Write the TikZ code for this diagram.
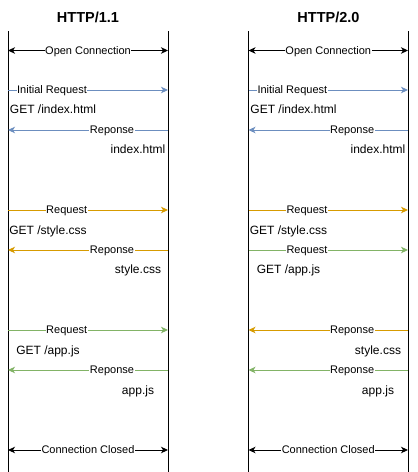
\documentclass[tikz,border=0pt]{standalone}
\usepackage{fontspec}
\setmainfont{Liberation Sans}
\usetikzlibrary{arrows.meta,positioning}
\definecolor{reqblue}{HTML}{6C8EBF}
\definecolor{reqorange}{HTML}{D79B00}
\definecolor{reqgreen}{HTML}{82B366}
\tikzstyle{life}=[draw, line width=1pt]
\tikzstyle{msg}=[line width=1pt, -{Stealth[length=7pt,width=6.5pt,inset=2pt]}]
\tikzstyle{both}=[line width=1pt, {Stealth[length=7pt,width=6.5pt,inset=2pt]}-{Stealth[length=7pt,width=6.5pt,inset=2pt]}]
\tikzstyle{lbl}=[fill=white, inner sep=0.6pt, text height=7.9pt, text depth=0pt, text=black, font=\fontsize{11}{13}\selectfont]
\tikzstyle{txt}=[inner sep=0pt, text height=8.6pt, text depth=0pt, text=black, font=\fontsize{12}{14}\selectfont]
\tikzstyle{ttl}=[inner sep=0pt, font=\bfseries\fontsize{14.5}{17}\selectfont]

\begin{document}
\begin{tikzpicture}[x=1pt,y=-1pt]
\useasboundingbox (0,0) rectangle (418,472);

\node[ttl] (title1) at (88,17) {HTTP/1.1};
\node[ttl] (title2) at (328.5,17) {HTTP/2.0};

% lifelines and the points where the messages start and end
\foreach \s/\x in {A/8,B/168,C/248.5,D/408}{
  \coordinate (\s top) at (\x,31);
  \coordinate (\s bot) at (\x,472);
  \foreach \r/\y in {1/50.5,2/90,3/130,4/210,5/250,6/330,7/370,8/450}
    \coordinate (\s\r) at (\x,\y);
}
\draw[life] (Atop) -- (Abot);
\draw[life] (Btop) -- (Bbot);
\draw[life] (Ctop) -- (Cbot);
\draw[life] (Dtop) -- (Dbot);

% HTTP/1.1
\draw[both] (A1) -- node[lbl] {Open Connection} (B1);
\draw[msg, reqblue] (A2) -- node[lbl, pos=0.275] {Initial Request} (B2);
\node[txt] (get1) at (53,109) {GET /index.html};
\draw[msg, reqblue] (B3) -- node[lbl, pos=0.35] {Reponse} (A3);
\node[txt] (res1) at (138,149) {index.html};

\draw[msg, reqorange] (A4) -- node[lbl, pos=0.367] {Request} (B4);
\node[txt] (get2) at (48,230) {GET /style.css};
\draw[msg, reqorange] (B5) -- node[lbl, pos=0.35] {Reponse} (A5);
\node[txt] (res2) at (138,269.5) {style.css};

\draw[msg, reqgreen] (A6) -- node[lbl, pos=0.367] {Request} (B6);
\node[txt] (get3) at (48,350) {GET /app.js};
\draw[msg, reqgreen] (B7) -- node[lbl, pos=0.35] {Reponse} (A7);
\node[txt] (res3) at (138,390) {app.js};

\draw[both] (A8) -- node[lbl] {Connection Closed} (B8);

% HTTP/2.0
\draw[both] (C1) -- node[lbl] {Open Connection} (D1);
\draw[msg, reqblue] (C2) -- node[lbl, pos=0.275] {Initial Request} (D2);
\node[txt] (get4) at (293.5,109) {GET /index.html};
\draw[msg, reqblue] (D3) -- node[lbl, pos=0.35] {Reponse} (C3);
\node[txt] (res4) at (378,149) {index.html};

\draw[msg, reqorange] (C4) -- node[lbl, pos=0.367] {Request} (D4);
\node[txt] (get5) at (288.5,230) {GET /style.css};
\draw[msg, reqgreen] (C5) -- node[lbl, pos=0.367] {Request} (D5);
\node[txt] (get6) at (288.5,269.5) {GET /app.js};

\draw[msg, reqorange] (D6) -- node[lbl, pos=0.35] {Reponse} (C6);
\node[txt] (res5) at (378,350) {style.css};
\draw[msg, reqgreen] (D7) -- node[lbl, pos=0.35] {Reponse} (C7);
\node[txt] (res6) at (378,390) {app.js};

\draw[both] (C8) -- node[lbl] {Connection Closed} (D8);
\end{tikzpicture}
\end{document}
